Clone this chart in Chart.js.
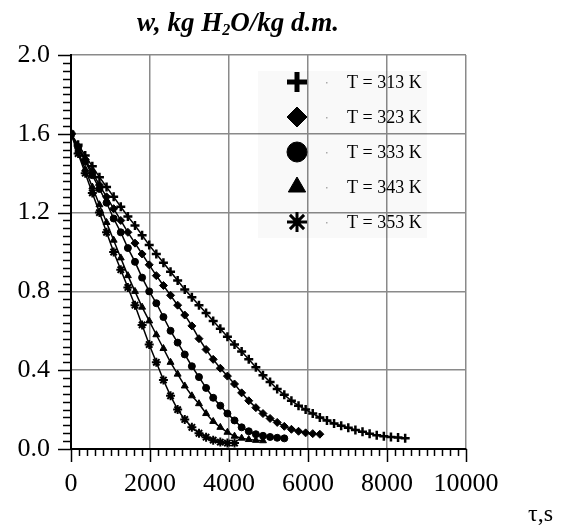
<!DOCTYPE html>
<html>
<head>
<meta charset="utf-8">
<script src="https://cdn.jsdelivr.net/npm/chart.js@4.4.1/dist/chart.umd.min.js"></script>
<style>
  body { margin: 0; background: #fff; }
  canvas { display: block; }
</style>
</head>
<body>
<canvas id="dryChart" width="569" height="526"></canvas>
<script>
// drying curves, moisture content w vs time tau (s)
const labels = ['T = 313 K', 'T = 323 K', 'T = 333 K', 'T = 343 K', 'T = 353 K'];
const markers = ['cross', 'rectRot', 'circle', 'triangle', 'star'];

const t313 = [0, 180, 360, 540, 720, 900, 1080, 1260, 1440, 1620, 1800, 1980, 2160, 2340, 2520, 2700, 2880, 3060, 3240, 3420, 3600, 3780, 3960, 4140, 4320, 4500, 4680, 4860, 5040, 5220, 5400, 5580, 5760, 5940, 6120, 6300, 6480, 6660, 6840, 7020, 7200, 7380, 7560, 7740, 7920, 8100, 8280, 8460];
const w313 = [1.60, 1.545, 1.49, 1.435, 1.38, 1.33, 1.28, 1.23, 1.18, 1.135, 1.085, 1.035, 0.99, 0.945, 0.90, 0.855, 0.81, 0.77, 0.73, 0.69, 0.65, 0.61, 0.57, 0.53, 0.495, 0.455, 0.415, 0.375, 0.34, 0.305, 0.275, 0.245, 0.22, 0.20, 0.18, 0.16, 0.145, 0.13, 0.118, 0.108, 0.097, 0.087, 0.078, 0.07, 0.065, 0.061, 0.058, 0.055];

const t323 = [0, 180, 360, 540, 720, 900, 1080, 1260, 1440, 1620, 1800, 1980, 2160, 2340, 2520, 2700, 2880, 3060, 3240, 3420, 3600, 3780, 3960, 4140, 4320, 4500, 4680, 4860, 5040, 5220, 5400, 5580, 5760, 5940, 6120, 6300];
const w323 = [1.60, 1.535, 1.47, 1.405, 1.34, 1.28, 1.22, 1.16, 1.10, 1.045, 0.99, 0.935, 0.88, 0.83, 0.78, 0.73, 0.68, 0.625, 0.56, 0.505, 0.455, 0.41, 0.37, 0.33, 0.285, 0.245, 0.21, 0.18, 0.155, 0.135, 0.115, 0.10, 0.09, 0.082, 0.078, 0.075];

const t333 = [0, 180, 360, 540, 720, 900, 1080, 1260, 1440, 1620, 1800, 1980, 2160, 2340, 2520, 2700, 2880, 3060, 3240, 3420, 3600, 3780, 3960, 4140, 4320, 4500, 4680, 4860, 5040, 5220, 5400];
const w333 = [1.60, 1.53, 1.46, 1.39, 1.32, 1.25, 1.17, 1.10, 1.02, 0.95, 0.87, 0.80, 0.74, 0.67, 0.60, 0.54, 0.48, 0.42, 0.365, 0.31, 0.26, 0.22, 0.18, 0.145, 0.11, 0.09, 0.075, 0.067, 0.061, 0.057, 0.054];

const t343 = [0, 180, 360, 540, 720, 900, 1080, 1260, 1440, 1620, 1800, 1980, 2160, 2340, 2520, 2700, 2880, 3060, 3240, 3420, 3600, 3780, 3960, 4140, 4320, 4500, 4680, 4860];
const w343 = [1.60, 1.51, 1.42, 1.33, 1.24, 1.15, 1.06, 0.97, 0.88, 0.80, 0.72, 0.65, 0.58, 0.51, 0.44, 0.38, 0.32, 0.27, 0.23, 0.18, 0.14, 0.11, 0.085, 0.065, 0.055, 0.048, 0.044, 0.042];

const t353 = [0, 180, 360, 540, 720, 900, 1080, 1260, 1440, 1620, 1800, 1980, 2160, 2340, 2520, 2700, 2880, 3060, 3240, 3420, 3600, 3780, 3960, 4140];
const w353 = [1.60, 1.50, 1.40, 1.30, 1.20, 1.10, 1.00, 0.91, 0.82, 0.73, 0.63, 0.53, 0.44, 0.35, 0.27, 0.20, 0.15, 0.11, 0.08, 0.06, 0.045, 0.035, 0.03, 0.03];

const times = [t313, t323, t333, t343, t353];
const moist = [w313, w323, w333, w343, w353];
const markerSize = [4.5, 4, 3.5, 4, 4.5];
const markerLine = [2.5, 1, 1, 1, 2];
const legendLine = [5, 1, 1, 1, 3];

const isMajorX = v => Math.abs(v % 2000) < 1e-6;
const isMajorY = v => Math.abs(v / 0.4 - Math.round(v / 0.4)) < 1e-6;

const datasets = labels.map((lab, i) => ({
    label: lab,
    data: times[i].map((t, j) => ({ x: t, y: moist[i][j] })),
    borderColor: '#000',
    backgroundColor: '#000',
    borderWidth: 1.5,
    pointStyle: markers[i],
    pointRadius: markerSize[i],
    pointBorderWidth: markerLine[i],
    pointBackgroundColor: '#000',
    pointBorderColor: '#000',
    tension: 0,
    fill: false
}));

// extra drawing: minor/major ticks, title, axis name, legend
const decor = {
    id: 'decor',
    afterDraw(chart) {
        const ctx = chart.ctx;
        const xs = chart.scales.x, ys = chart.scales.y;
        const area = chart.chartArea;
        ctx.save();
        ctx.strokeStyle = '#000';
        ctx.lineWidth = 1.5;
        xs.ticks.forEach(tk => {
            const px = Math.round(xs.getPixelForValue(tk.value)) + 0.5;
            ctx.beginPath();
            ctx.moveTo(px, area.bottom);
            ctx.lineTo(px, area.bottom + (isMajorX(tk.value) ? 13 : 7));
            ctx.stroke();
        });
        ys.ticks.forEach(tk => {
            const py = Math.round(ys.getPixelForValue(tk.value)) + 0.5;
            ctx.beginPath();
            ctx.moveTo(area.left, py);
            ctx.lineTo(area.left - (isMajorY(tk.value) ? 13 : 8), py);
            ctx.stroke();
        });

        // title with subscript
        ctx.fillStyle = '#000';
        ctx.textBaseline = 'alphabetic';
        ctx.textAlign = 'left';
        const big = 'italic bold 27px "Liberation Serif"';
        const small = 'italic bold 16px "Liberation Serif"';
        const p1 = 'w, kg H', p2 = '2', p3 = 'O/kg d.m.';
        ctx.font = big;
        const w1 = ctx.measureText(p1).width, w3 = ctx.measureText(p3).width;
        ctx.font = small;
        const w2 = ctx.measureText(p2).width;
        let x0 = 238 - (w1 + w2 + w3) / 2;
        ctx.font = big;
        ctx.fillText(p1, x0, 31);
        ctx.font = small;
        ctx.fillText(p2, x0 + w1, 35);
        ctx.font = big;
        ctx.fillText(p3, x0 + w1 + w2, 31);

        // axis name
        ctx.font = '24px "Liberation Serif"';
        ctx.fillText('\u03c4,s', 528, 521);

        // legend
        ctx.fillStyle = 'rgba(0,0,0,0.025)';
        ctx.fillRect(258, 71, 169, 167);
        ctx.font = '18px "Liberation Serif"';
        chart.data.datasets.forEach((ds, i) => {
            const cy = 82 + i * 35;
            ctx.fillStyle = '#000';
            ctx.strokeStyle = '#000';
            ctx.lineWidth = legendLine[i];
            Chart.helpers.drawPoint(ctx, {
                pointStyle: ds.pointStyle,
                radius: 10,
                rotation: 0,
                borderWidth: legendLine[i]
            }, 297, cy);
            ctx.fillStyle = '#aaa';
            ctx.fillRect(326, cy, 1.5, 1.5);
            ctx.fillStyle = '#000';
            ctx.textBaseline = 'middle';
            ctx.fillText(ds.label, 347, cy + 1);
        });
        ctx.restore();
    }
};

new Chart(document.getElementById('dryChart').getContext('2d'), {
    type: 'line',
    data: { datasets: datasets },
    options: {
        responsive: false,
        animation: false,
        devicePixelRatio: 1,
        layout: { padding: { top: 55, right: 103, bottom: 0, left: 0 } },
        plugins: { legend: { display: false }, tooltip: { enabled: false } },
        scales: {
            x: {
                type: 'linear',
                min: 0,
                max: 10000,
                afterFit: s => { s.height = 77; },
                border: { color: '#000', width: 2 },
                grid: {
                    drawTicks: false,
                    lineWidth: 1.5,
                    color: c => isMajorX(c.tick.value) ? '#8a8a8a' : 'rgba(0,0,0,0)'
                },
                ticks: {
                    stepSize: 200,
                    autoSkip: false,
                    maxRotation: 0,
                    padding: 20,
                    color: '#000',
                    font: { family: 'Liberation Serif', size: 26 },
                    callback: v => isMajorX(v) ? String(v) : ''
                }
            },
            y: {
                type: 'linear',
                min: 0,
                max: 2,
                afterFit: s => { s.width = 71; },
                border: { color: '#000', width: 2 },
                grid: {
                    drawTicks: false,
                    lineWidth: 1.5,
                    color: c => isMajorY(c.tick.value) ? '#8a8a8a' : 'rgba(0,0,0,0)'
                },
                ticks: {
                    stepSize: 0.04,
                    autoSkip: false,
                    padding: 21,
                    color: '#000',
                    font: { family: 'Liberation Serif', size: 26 },
                    callback: v => isMajorY(v) ? v.toFixed(1) : ''
                }
            }
        }
    },
    plugins: [decor]
});
</script>
</body>
</html>
